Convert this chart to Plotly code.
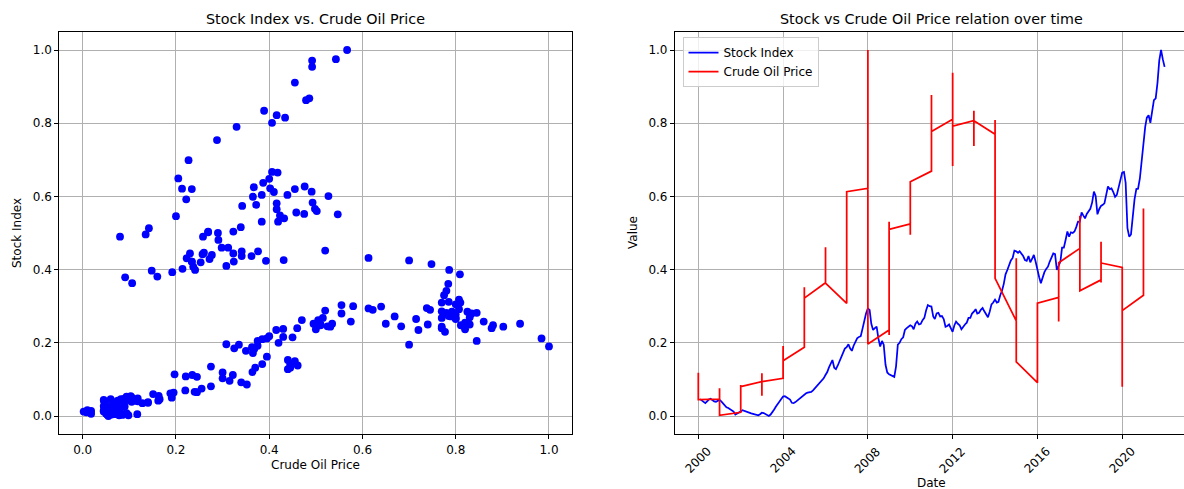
import pandas as pd
import plotly.graph_objects as go

# ---------------------------------------------------------------- data
years = list(range(2000, 2022))

# normalised monthly stock index, Jan 2000 .. Dec 2021 (12 values per row)
stock_index = [
    0.046, 0.042, 0.038, 0.035, 0.040, 0.045, 0.047, 0.043, 0.040, 0.039, 0.042, 0.044,  # 2000
    0.040, 0.034, 0.027, 0.024, 0.022, 0.018, 0.015, 0.012, 0.004, 0.006, 0.010, 0.012,  # 2001
    0.016, 0.014, 0.012, 0.010, 0.008, 0.007, 0.006, 0.005, 0.003, 0.002, 0.005, 0.009,  # 2002
    0.008, 0.005, 0.002, 0.000, 0.004, 0.010, 0.018, 0.026, 0.032, 0.040, 0.046, 0.053,  # 2003
    0.054, 0.051, 0.048, 0.045, 0.036, 0.035, 0.038, 0.042, 0.046, 0.050, 0.055, 0.060,  # 2004
    0.062, 0.064, 0.065, 0.066, 0.070, 0.075, 0.081, 0.086, 0.092, 0.096, 0.103, 0.112,  # 2005
    0.120, 0.132, 0.142, 0.153, 0.132, 0.128, 0.138, 0.150, 0.162, 0.172, 0.184, 0.188,  # 2006
    0.196, 0.185, 0.178, 0.192, 0.205, 0.212, 0.216, 0.218, 0.238, 0.262, 0.280, 0.294,  # 2007
    0.290, 0.252, 0.235, 0.240, 0.244, 0.212, 0.190, 0.205, 0.195, 0.140, 0.119, 0.114,  # 2008
    0.112, 0.108, 0.107, 0.135, 0.195, 0.200, 0.210, 0.215, 0.235, 0.240, 0.244, 0.248,  # 2009
    0.245, 0.237, 0.252, 0.258, 0.250, 0.252, 0.262, 0.268, 0.288, 0.303, 0.300, 0.299,  # 2010
    0.272, 0.265, 0.280, 0.282, 0.272, 0.273, 0.265, 0.244, 0.246, 0.250, 0.240, 0.230,  # 2011
    0.248, 0.258, 0.252, 0.248, 0.237, 0.245, 0.250, 0.255, 0.268, 0.268, 0.280, 0.285,  # 2012
    0.292, 0.280, 0.282, 0.290, 0.295, 0.286, 0.278, 0.270, 0.285, 0.305, 0.310, 0.318,  # 2013
    0.310, 0.312, 0.330, 0.342, 0.361, 0.387, 0.399, 0.415, 0.425, 0.432, 0.452, 0.450,  # 2014
    0.446, 0.450, 0.444, 0.437, 0.426, 0.424, 0.437, 0.420, 0.429, 0.440, 0.422, 0.397,  # 2015
    0.379, 0.363, 0.381, 0.393, 0.402, 0.408, 0.422, 0.431, 0.444, 0.442, 0.399, 0.410,  # 2016
    0.422, 0.460, 0.460, 0.481, 0.504, 0.490, 0.502, 0.500, 0.504, 0.516, 0.531, 0.531,  # 2017
    0.556, 0.548, 0.540, 0.552, 0.560, 0.566, 0.583, 0.613, 0.601, 0.551, 0.565, 0.574,  # 2018
    0.577, 0.581, 0.604, 0.627, 0.620, 0.622, 0.612, 0.599, 0.604, 0.625, 0.648, 0.665,  # 2019
    0.667, 0.637, 0.513, 0.490, 0.496, 0.546, 0.592, 0.620, 0.621, 0.649, 0.699, 0.754,  # 2020
    0.790, 0.815, 0.822, 0.801, 0.834, 0.863, 0.868, 0.911, 0.971, 1.000, 0.975, 0.954,  # 2021
]

# normalised monthly crude oil price, same months
crude_oil = [
    0.060, 0.075, 0.072, 0.048, 0.077, 0.095, 0.088, 0.100, 0.118, 0.105, 0.112, 0.045,  # 2000
    0.046, 0.065, 0.045, 0.055, 0.076, 0.070, 0.045, 0.055, 0.053, 0.018, 0.008, 0.002,  # 2001
    0.010, 0.018, 0.045, 0.062, 0.060, 0.050, 0.062, 0.070, 0.085, 0.078, 0.052, 0.080,  # 2002
    0.094, 0.117, 0.098, 0.055, 0.062, 0.075, 0.080, 0.090, 0.068, 0.085, 0.082, 0.094,  # 2003
    0.103, 0.105, 0.118, 0.115, 0.140, 0.128, 0.140, 0.162, 0.165, 0.191, 0.163, 0.151,  # 2004
    0.188, 0.195, 0.245, 0.240, 0.220, 0.255, 0.275, 0.352, 0.340, 0.315, 0.300, 0.322,  # 2005
    0.364, 0.370, 0.385, 0.440, 0.445, 0.440, 0.461, 0.455, 0.395, 0.365, 0.368, 0.363,  # 2006
    0.308, 0.325, 0.350, 0.375, 0.375, 0.395, 0.430, 0.400, 0.430, 0.470, 0.555, 0.613,  # 2007
    0.622, 0.650, 0.720, 0.770, 0.902, 0.984, 1.000, 0.845, 0.700, 0.445, 0.300, 0.197,  # 2008
    0.235, 0.221, 0.245, 0.275, 0.335, 0.420, 0.385, 0.450, 0.415, 0.460, 0.531, 0.510,  # 2009
    0.525, 0.500, 0.535, 0.575, 0.510, 0.495, 0.505, 0.515, 0.520, 0.555, 0.580, 0.640,  # 2010
    0.669, 0.715, 0.790, 0.845, 0.790, 0.785, 0.800, 0.770, 0.820, 0.830, 0.877, 0.777,  # 2011
    0.811, 0.860, 0.938, 0.880, 0.820, 0.683, 0.740, 0.820, 0.800, 0.770, 0.790, 0.792,  # 2012
    0.807, 0.834, 0.780, 0.745, 0.738, 0.770, 0.800, 0.830, 0.825, 0.800, 0.810, 0.807,  # 2013
    0.770, 0.785, 0.775, 0.780, 0.784, 0.809, 0.786, 0.748, 0.700, 0.613, 0.520, 0.376,  # 2014
    0.260, 0.341, 0.323, 0.362, 0.431, 0.393, 0.341, 0.253, 0.272, 0.277, 0.234, 0.148,  # 2015
    0.091, 0.106, 0.160, 0.192, 0.214, 0.237, 0.234, 0.223, 0.230, 0.257, 0.241, 0.308,  # 2016
    0.324, 0.312, 0.298, 0.291, 0.269, 0.258, 0.269, 0.290, 0.323, 0.339, 0.384, 0.419,  # 2017
    0.458, 0.423, 0.432, 0.475, 0.502, 0.498, 0.493, 0.491, 0.527, 0.547, 0.416, 0.342,  # 2018
    0.372, 0.416, 0.439, 0.476, 0.455, 0.402, 0.410, 0.365, 0.384, 0.367, 0.400, 0.418,  # 2019
    0.406, 0.387, 0.142, 0.080, 0.135, 0.200, 0.222, 0.234, 0.213, 0.205, 0.227, 0.288,  # 2020
    0.330, 0.434, 0.416, 0.406, 0.389, 0.479, 0.486, 0.455, 0.492, 0.567, 0.543, 0.492,  # 2021
]

unit_ticks = [0.0, 0.2, 0.4, 0.6, 0.8, 1.0]
year_ticks = [2000, 2004, 2008, 2012, 2016, 2020]

# stock index is stamped at month end; the oil file only carries the year,
# so every month of a year lands on the 1st of January
stock_dates = pd.date_range("2000-01-31", periods=len(stock_index), freq="ME")
oil_dates = pd.to_datetime([f"{y}-01-01" for y in years for _ in range(12)])

# ---------------------------------------------------------------- layout helpers
W, H = 1184, 489
FONT = "DejaVu Sans"
BLACK = "#000000"
GRID = "#b0b0b0"
FS = 12      # tick / label text
FS_T = 14.3  # titles


def fx(px):
    return px / W


def fy(py):
    return 1 - py / H


AX_TOP, AX_BOT = 31.7, 434.3
L_LEFT, L_RIGHT = 59.4, 572.3
R_LEFT = 675.0
AX_W = L_RIGHT - L_LEFT

# date axis limits with 5% padding around the data, the right part is cut by the canvas
t_min = min(stock_dates.min(), oil_dates.min())
t_max = max(stock_dates.max(), oil_dates.max())
pad = (t_max - t_min) * 0.05
x2_start = t_min - pad
x2_full = (t_max + pad) - x2_start
x2_end = x2_start + x2_full * ((W - R_LEFT) / AX_W)

fig = go.Figure()

fig.add_trace(go.Scatter(
    x=crude_oil, y=stock_index, mode="markers",
    marker=dict(color="#0000ff", size=7.8, line=dict(width=0)),
    showlegend=False, xaxis="x", yaxis="y",
))
fig.add_trace(go.Scatter(
    x=stock_dates, y=stock_index, mode="lines", name="Stock Index",
    line=dict(color="#0000ff", width=1.75), xaxis="x2", yaxis="y2",
))
fig.add_trace(go.Scatter(
    x=oil_dates, y=crude_oil, mode="lines", name="Crude Oil Price",
    line=dict(color="#ff0000", width=1.75), xaxis="x2", yaxis="y2",
))

axis_common = dict(
    showline=True, linecolor=BLACK, linewidth=0.95, mirror=True,
    ticks="outside", ticklen=4.1, tickwidth=0.95, tickcolor=BLACK,
    showgrid=True, gridcolor=GRID, gridwidth=0.95, zeroline=False,
    tickfont=dict(family=FONT, size=FS, color=BLACK),
)

fig.update_layout(
    width=W, height=H,
    margin=dict(l=0, r=0, t=0, b=0),
    paper_bgcolor="white", plot_bgcolor="white",
    font=dict(family=FONT, size=FS, color=BLACK),
    xaxis=dict(domain=[fx(L_LEFT), fx(L_RIGHT)], range=[-0.05, 1.05],
               tickvals=unit_ticks, tickformat=".1f", anchor="y", **axis_common),
    yaxis=dict(domain=[fy(AX_BOT), fy(AX_TOP)], range=[-0.05, 1.05],
               tickvals=unit_ticks, tickformat=".1f", anchor="x", **axis_common),
    xaxis2=dict(domain=[fx(R_LEFT), 1.0], range=[x2_start, x2_end], type="date",
                tickvals=[pd.Timestamp(f"{y}-01-01") for y in year_ticks],
                showticklabels=False, anchor="y2", **axis_common),
    yaxis2=dict(domain=[fy(AX_BOT), fy(AX_TOP)], range=[-0.05, 1.05],
                tickvals=unit_ticks, tickformat=".1f", anchor="x2", **axis_common),
    legend=dict(
        x=fx(682.5), y=fy(37.0), xanchor="left", yanchor="top",
        bgcolor="rgba(255,255,255,0.8)", bordercolor="#cccccc", borderwidth=1,
        font=dict(family=FONT, size=FS, color=BLACK),
        itemwidth=30, tracegroupgap=0,
    ),
)

annotations = [
    dict(text="Stock Index vs. Crude Oil Price", x=fx((L_LEFT + L_RIGHT) / 2), y=fy(19),
         font=dict(size=FS_T)),
    dict(text="Stock vs Crude Oil Price relation over time", x=fx(R_LEFT + AX_W / 2), y=fy(19),
         font=dict(size=FS_T)),
    dict(text="Crude Oil Price", x=fx((L_LEFT + L_RIGHT) / 2), y=fy(465)),
    dict(text="Stock Index", x=fx(17), y=fy((AX_TOP + AX_BOT) / 2), textangle=-90),
    dict(text="Date", x=fx(R_LEFT + AX_W / 2), y=fy(483)),
    dict(text="Value", x=fx(633), y=fy((AX_TOP + AX_BOT) / 2), textangle=-90),
]
for a in annotations:
    a.update(xref="paper", yref="paper", xanchor="center", yanchor="middle", showarrow=False)
    a.setdefault("font", {})
    a["font"].update(family=FONT, color=BLACK)
    a["font"].setdefault("size", FS)

# rotated year labels centred under their ticks
for y in year_ticks:
    annotations.append(dict(
        text=str(y), x=pd.Timestamp(f"{y}-01-01"), xref="x2", y=fy(AX_BOT + 8.5), yref="paper",
        xanchor="center", yanchor="top", textangle=-45, showarrow=False,
        font=dict(family=FONT, size=FS, color=BLACK), borderpad=0,
    ))

fig.update_layout(annotations=annotations)

fig.write_html("out.html")
